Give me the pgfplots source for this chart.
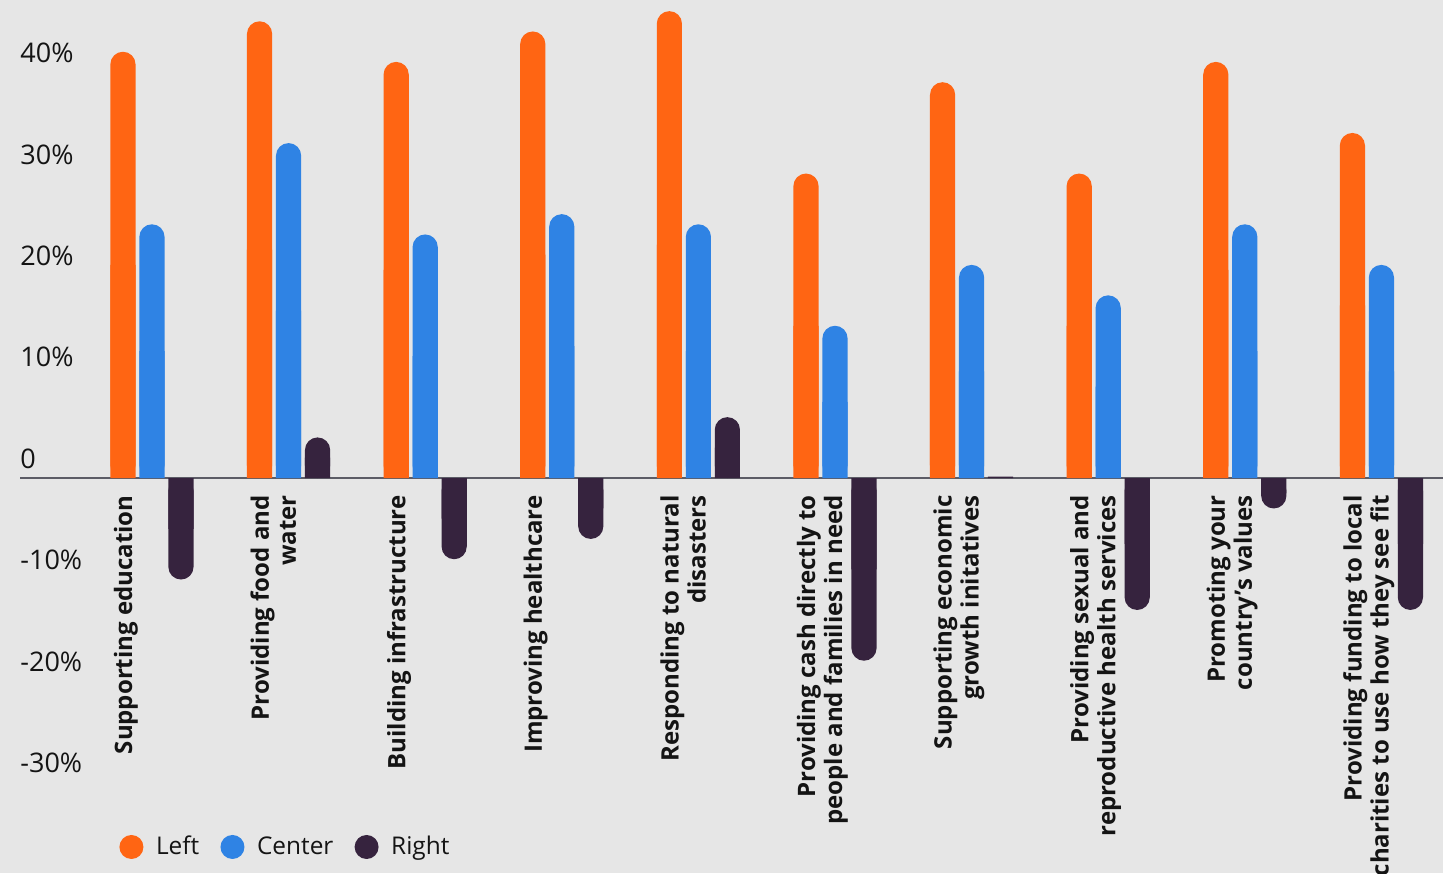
\documentclass[border=0pt]{standalone}
\usepackage{fontspec}
\setmainfont{Open Sans}
\usepackage{pgfplots}
\usepackage{pgfplotstable}
\pgfplotsset{compat=1.18}
\definecolor{cLeft}{HTML}{FF6513}
\definecolor{cCenter}{HTML}{2F83E4}
\definecolor{cRight}{HTML}{36233E}
\definecolor{bg}{HTML}{E6E6E6}
\definecolor{zline}{HTML}{5C5C66}

\pgfplotstableread{
x left center right
0 42 25 -10
1 45 33 4
2 41 24 -8
3 44 26 -6
4 46 25 6
5 30 15 -18
6 39 21 0.15
7 30 18 -13
8 41 25 -3
9 34 21 -13
}\data

\begin{document}
\begin{tikzpicture}
\fill[bg] (0,0) rectangle (721.5pt,436.5pt);
\useasboundingbox (0,0) rectangle (721.5pt,436.5pt);
\begin{axis}[
  at={(10pt,35.1pt)}, anchor=south west,
  scale only axis, width=711.5pt, height=400.9pt,
  xmin=-0.966, xmax=9.451, ymin=-32, ymax=47,
  axis x line=middle, axis y line=left,
  hide obscured x ticks=false, hide obscured y ticks=false,
  x axis line style={draw=zline, line width=1pt, -},
  y axis line style={draw=none},
  major tick length=0pt,
  xtick={0,...,9},
  xticklabels={
    Supporting education,
    {Providing food and\\water},
    Building infrastructure,
    Improving healthcare,
    {Responding to natural\\disasters},
    {Providing cash directly to\\people and families in need},
    {Supporting economic\\growth initatives},
    {Providing sexual and\\reproductive health services},
    {Promoting your\\country’s values},
    {Providing funding to local\\charities to use how they see fit}},
  xticklabel style={xshift=-19.25pt, yshift=-8.5pt, rotate=90, anchor=north east,
    inner sep=0pt, align=right, text=black!92,
    font=\bfseries\fontsize{12}{13.5}\selectfont},
  ytick={-30,-20,-10,0,10,20,30,40},
  yticklabels={-30\%,-20\%,-10\%,0,10\%,20\%,30\%,40\%},
  yticklabel style={anchor=west, inner sep=0pt, yshift=9.6pt, text=black!92,
    font=\fontsize{13.5}{16}\selectfont},
  clip=false,
  legend columns=3,
  legend style={draw=none, fill=none, inner sep=0pt, at={(0.0696,-0.0551)}, anchor=west,
    font=\fontsize{12.2}{15}\selectfont, text=black!92,
    /tikz/every odd column/.append style={column sep=4.3pt},
    /tikz/every even column/.append style={column sep=8.6pt}},
]
\addplot[ybar, bar width=12.6pt, bar shift=-14.5pt, fill=cLeft, draw=none, forget plot]
  table[x=x,y expr=\thisrow{left}/2]{\data};
\addplot[ybar, bar width=12.6pt, bar shift=0pt, fill=cCenter, draw=none, forget plot]
  table[x=x,y expr=\thisrow{center}/2]{\data};
\addplot[ybar, bar width=12.6pt, bar shift=14.5pt, fill=cRight, draw=none, forget plot]
  table[x=x,y expr={abs(\thisrow{right})<1.5 ? \thisrow{right} : \thisrow{right}/2}]{\data};
\addplot[ybar, bar width=12.6pt, bar shift=-14.5pt, fill=cLeft, draw=none, rounded corners=6.3pt,
  legend image code/.code={\fill (6pt,0pt) circle (6pt);}] table[x=x,y=left]{\data};
\addplot[ybar, bar width=12.6pt, bar shift=0pt, fill=cCenter, draw=none, rounded corners=6.3pt,
  legend image code/.code={\fill (6pt,0pt) circle (6pt);}] table[x=x,y=center]{\data};
\addplot[ybar, bar width=12.6pt, bar shift=14.5pt, fill=cRight, draw=none, rounded corners=6.3pt,
  y filter/.expression={abs(y)<1.5 ? nan : y},
  legend image code/.code={\fill (6pt,0pt) circle (6pt);}] table[x=x,y=right]{\data};
\legend{Left,Center,Right}
\end{axis}
\end{tikzpicture}
\end{document}
